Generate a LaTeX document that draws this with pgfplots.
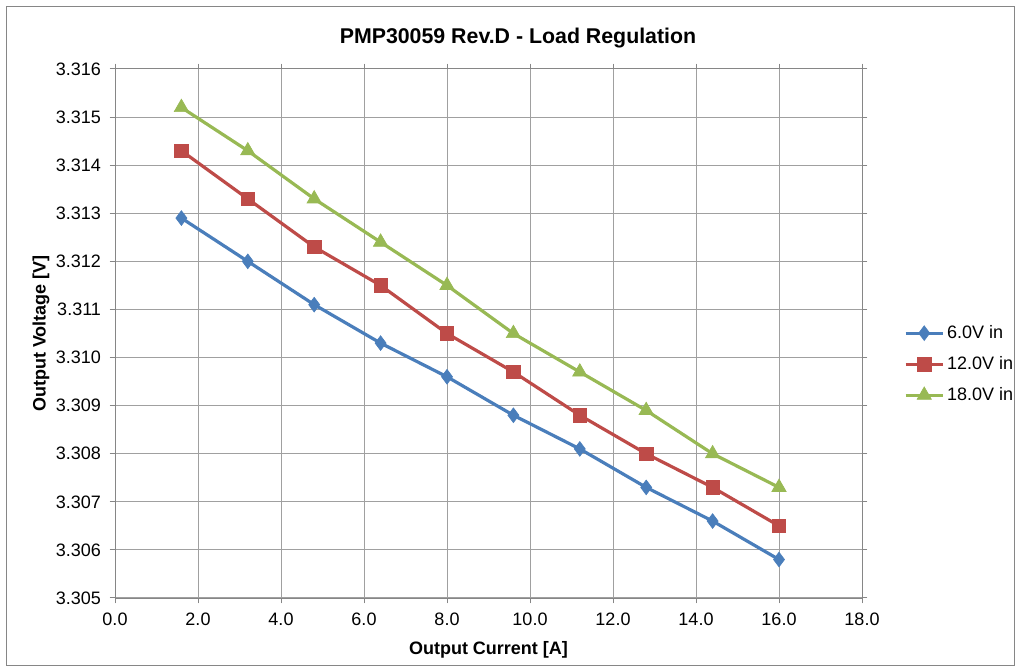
\documentclass[border=0pt]{standalone}
\usepackage{fontspec}
\setmainfont{Liberation Sans}
\usepackage{pgfplots}
\pgfplotsset{compat=1.18}
\definecolor{sblue}{HTML}{4A7EBB}
\definecolor{sred}{HTML}{BE4B48}
\definecolor{sgreen}{HTML}{98B954}
\definecolor{gridgray}{HTML}{A0A0A0}
\definecolor{axgray}{HTML}{868686}
\begin{document}
\begin{tikzpicture}
\path[use as bounding box] (0,0) rectangle (765pt,503.25pt);
\draw[axgray, line width=0.75pt] (4.5pt,4.5pt) rectangle (760.5pt,498pt);
\node[font=\bfseries\fontsize{16}{18}\selectfont] at (388.5pt,475pt) {PMP30059 Rev.D - Load Regulation};
\begin{axis}[
    at={(86.25pt,54.75pt)}, anchor=south west,
    scale only axis,
    width=560.25pt, height=396.75pt,
    xmin=0, xmax=18, xtick distance=2,
    ymin=3.305, ymax=3.316, ytick distance=0.001,
    grid=major,
    grid style={gridgray, line width=0.75pt},
    axis line style={axgray, line width=0.75pt},
    tick style={axgray, line width=0.75pt},
    tick align=outside,
    major tick length=4pt,
    xticklabel style={yshift=-4pt, /pgf/number format/.cd, fixed, fixed zerofill, precision=1},
    yticklabel style={xshift=-3pt, /pgf/number format/.cd, fixed, fixed zerofill, precision=3},
    /pgf/number format/assume math mode=true,
    ticklabel style={font=\fontsize{13.5}{15}\selectfont},
    xlabel={Output Current [A]},
    ylabel={Output Voltage [V]},
    label style={font=\bfseries\fontsize{13.5}{15}\selectfont},
    xlabel style={yshift=-5pt},
    ylabel style={yshift=-2pt},
    legend style={at={(1.0576,0.442)}, anchor=west, xshift=-4pt, draw=none, fill=none,
        font=\fontsize{13.5}{15}\selectfont, row sep=8pt},
    legend cell align=left,
    legend image code/.code={
        \draw[#1, mark repeat=2, mark phase=2] plot coordinates {(0pt,0pt) (14pt,0pt) (28pt,0pt)};
    },
    every axis plot/.append style={line width=2.4pt},
]
\addplot[sblue, mark=diamond*, mark size=5.5pt, mark options={line width=0.5pt}] coordinates {
(1.6,3.3129)(3.2,3.3120)(4.8,3.3111)(6.4,3.3103)(8.0,3.3096)
(9.6,3.3088)(11.2,3.3081)(12.8,3.3073)(14.4,3.3066)(16.0,3.3058)};
\addlegendentry{6.0V in}
\addplot[sred, mark=square*, mark size=5pt, mark options={line width=0.5pt}] coordinates {
(1.6,3.3143)(3.2,3.3133)(4.8,3.3123)(6.4,3.3115)(8.0,3.3105)
(9.6,3.3097)(11.2,3.3088)(12.8,3.3080)(14.4,3.3073)(16.0,3.3065)};
\addlegendentry{12.0V in}
\addplot[sgreen, mark=triangle*, mark size=6.2pt, mark options={line width=0.5pt}] coordinates {
(1.6,3.3152)(3.2,3.3143)(4.8,3.3133)(6.4,3.3124)(8.0,3.3115)
(9.6,3.3105)(11.2,3.3097)(12.8,3.3089)(14.4,3.3080)(16.0,3.3073)};
\addlegendentry{18.0V in}
\end{axis}
\end{tikzpicture}
\end{document}
